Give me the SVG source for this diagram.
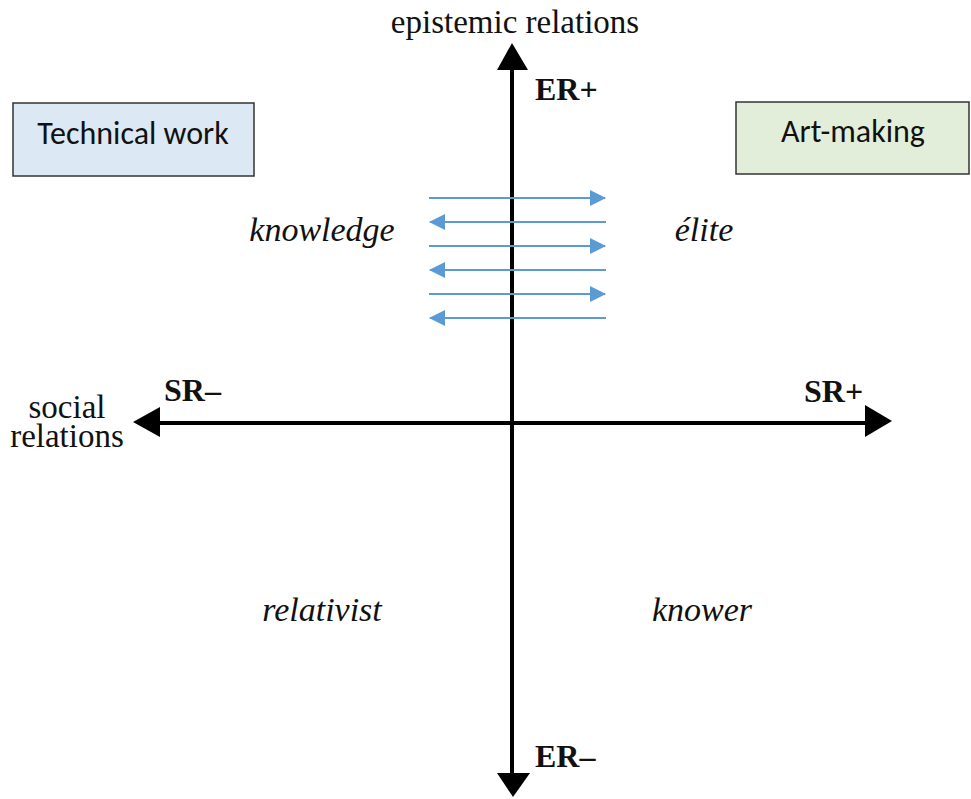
<svg xmlns="http://www.w3.org/2000/svg" width="971" height="799" viewBox="0 0 971 799">
<style>
.serif{font-family:"Liberation Serif","Times New Roman",serif;fill:#111}
.lab{font-size:33px}
.pole{font-size:32px;font-weight:bold}
.quad{font-size:34px;font-style:italic}
.box{font-family:Calibri,Carlito,"Liberation Sans","Open Sans",sans-serif;font-size:32px;fill:#111}
.ax{stroke:#000;stroke-width:4;fill:none}
.bl{stroke:#5B9BD5;stroke-width:2;fill:none}
</style>
<defs>
<marker id="bh" markerUnits="userSpaceOnUse" markerWidth="16" markerHeight="18" refX="15" refY="8" orient="auto">
<path d="M0,0 L16,8 L0,16 Z" fill="#5B9BD5"/>
</marker>
</defs>
<rect width="971" height="799" fill="#fff"/>
<g id="connectors">
<line class="ax" x1="512" y1="68" x2="512" y2="775"/>
<polygon points="512,43 497,70 528,70" fill="#000"/>
<polygon points="513,797 497,773 530,773" fill="#000"/>
<line class="ax" x1="158" y1="423" x2="868" y2="423"/>
<polygon points="133,422 160,407 160,437" fill="#000"/>
<polygon points="892,421 865,405 865,437" fill="#000"/>
<line class="bl" x1="429" y1="198" x2="605" y2="198" marker-end="url(#bh)"/>
<line class="bl" x1="606" y1="222" x2="430" y2="222" marker-end="url(#bh)"/>
<line class="bl" x1="429" y1="246" x2="605" y2="246" marker-end="url(#bh)"/>
<line class="bl" x1="606" y1="270" x2="430" y2="270" marker-end="url(#bh)"/>
<line class="bl" x1="429" y1="294" x2="605" y2="294" marker-end="url(#bh)"/>
<line class="bl" x1="606" y1="318" x2="430" y2="318" marker-end="url(#bh)"/>
</g>
<g id="axis-labels">
<text class="serif lab" x="515" y="33" text-anchor="middle">epistemic relations</text>
<text class="serif lab" x="67" y="418" text-anchor="middle">social</text>
<text class="serif lab" x="67" y="447" text-anchor="middle">relations</text>
<text class="serif pole" x="535" y="100">ER+</text>
<text class="serif pole" x="535" y="767">ER–</text>
<text class="serif pole" x="164" y="401">SR–</text>
<text class="serif pole" x="804" y="402">SR+</text>
</g>
<g id="quadrants">
<text class="serif quad" x="322" y="241" text-anchor="middle">knowledge</text>
<text class="serif quad" x="704" y="241" text-anchor="middle">élite</text>
<text class="serif quad" x="322" y="621" text-anchor="middle">relativist</text>
<text class="serif quad" x="702" y="621" text-anchor="middle">knower</text>
</g>
<g id="technical-work">
<rect x="13" y="103" width="241" height="73" fill="#DDE8F5" stroke="#333" stroke-width="1.5"/>
<text class="box" x="133" y="144" text-anchor="middle">Technical work</text>
</g>
<g id="art-making">
<rect x="736" y="102" width="233" height="72" fill="#E2EED9" stroke="#333" stroke-width="1.5"/>
<text class="box" x="853" y="142" text-anchor="middle">Art-making</text>
</g>
</svg>
